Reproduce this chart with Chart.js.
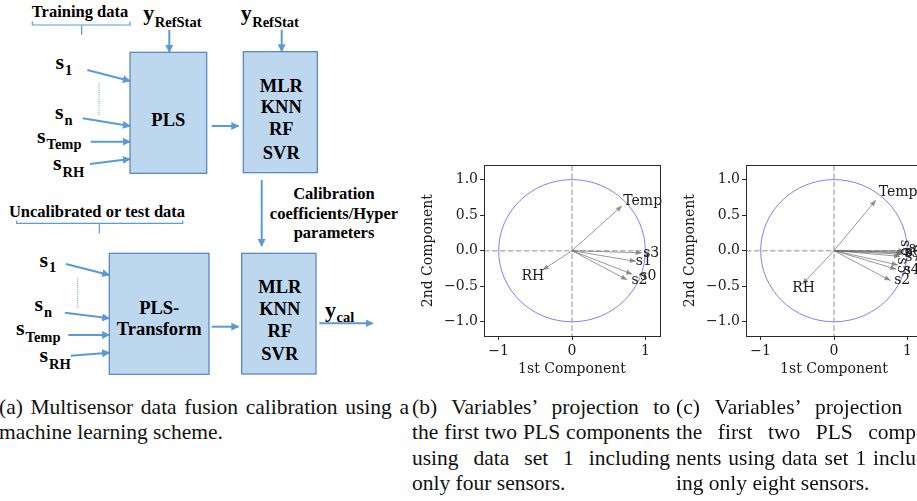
<!DOCTYPE html>
<html>
<head>
<meta charset="utf-8">
<script src="https://cdn.jsdelivr.net/npm/chart.js@4.4.1/dist/chart.umd.min.js"></script>
<style>
  html, body { margin: 0; padding: 0; width: 917px; height: 501px; overflow: hidden; background: #fff; }
  #page { position: relative; width: 917px; height: 501px; overflow: hidden; }
  #page canvas { position: absolute; }
  .cap { position: absolute; font-family: "Liberation Serif", serif; font-size: 21.5px; line-height: 25.4px; color: #111; }
  .cap .j { text-align: justify; text-align-last: justify; }
  .cap .l { text-align: left; }
</style>
</head>
<body>
<div id="page">

<!-- (a) calibration scheme -->
<svg width="400" height="390" style="position:absolute;left:0;top:0" font-family="Liberation Serif, serif" font-weight="bold" fill="#000">
  <defs>
    <marker id="ah" viewBox="0 0 10 10" refX="9" refY="5" markerWidth="4" markerHeight="4" orient="auto">
      <path d="M0,0 L10,5 L0,10 z" fill="#5b9bd5"/>
    </marker>
  </defs>
  <g stroke="#5b9bd5" stroke-width="2" fill="none" marker-end="url(#ah)">
    <!-- training branch -->
    <line x1="169.3" y1="30" x2="169.3" y2="52"/>
    <line x1="281.7" y1="30" x2="281.7" y2="51.5"/>
    <line x1="211.7" y1="126" x2="238.5" y2="126"/>
    <line x1="87.3" y1="70" x2="130" y2="81"/>
    <line x1="82.7" y1="118.3" x2="130" y2="126"/>
    <line x1="90.7" y1="141.7" x2="130" y2="141.7"/>
    <line x1="90" y1="164" x2="130" y2="159"/>
    <line x1="261.7" y1="180" x2="261.7" y2="246"/>
    <!-- test branch -->
    <line x1="211.7" y1="326.7" x2="238.5" y2="326.7"/>
    <line x1="319.3" y1="323.3" x2="372.7" y2="323.3"/>
    <line x1="66" y1="264" x2="109.3" y2="275"/>
    <line x1="65" y1="312.7" x2="109.3" y2="318.3"/>
    <line x1="68.3" y1="335" x2="109.3" y2="335"/>
    <line x1="70.7" y1="355.7" x2="109.3" y2="352.7"/>
  </g>
  <g stroke="#5b9bd5" stroke-width="1.2" fill="none">
    <path d="M32.3,21.5 L32.3,25 L130,25 L130,21.5 M81.7,25 L81.7,35"/>
    <path d="M16.7,220.5 L16.7,223.3 L182.7,223.3 L182.7,220.5 M99.3,223.3 L99.3,233.3"/>
  </g>
  <g stroke="#5b9bd5" stroke-width="1" stroke-dasharray="1,1.2">
    <line x1="99" y1="83.3" x2="99" y2="115"/>
    <line x1="77.7" y1="278.3" x2="77.7" y2="308.3"/>
  </g>
  <g fill="#bdd7ee" stroke="#4f81bd" stroke-width="1.2">
    <rect x="130" y="52.3" width="76.7" height="121"/>
    <rect x="243.3" y="51.7" width="74" height="121"/>
    <rect x="109.3" y="253.3" width="99.7" height="121"/>
    <rect x="241.7" y="253.3" width="74.3" height="120.7"/>
  </g>
  <g font-size="16.5" text-anchor="middle">
    <text x="80" y="17">Training data</text>
    <text x="97" y="217.3">Uncalibrated or test data</text>
    <text x="334" y="199">Calibration</text>
    <text x="334" y="218.5">coefficients/Hyper</text>
    <text x="334" y="237.5">parameters</text>
  </g>
  <g font-size="18.5" text-anchor="middle">
    <text x="168.3" y="126">PLS</text>
    <text x="281.3" y="92">MLR</text>
    <text x="281.3" y="113.4">KNN</text>
    <text x="281.3" y="135.4">RF</text>
    <text x="281.3" y="158.8">SVR</text>
    <text x="159.2" y="314.3">PLS-</text>
    <text x="159.2" y="335.3">Transform</text>
    <text x="279.8" y="293.4">MLR</text>
    <text x="279.8" y="315">KNN</text>
    <text x="279.8" y="337.4">RF</text>
    <text x="279.8" y="360.1">SVR</text>
  </g>
  <g font-size="22">
    <text x="143.3" y="20">y<tspan font-size="14.5" dx="0.5" dy="6.5">RefStat</tspan></text>
    <text x="240.7" y="20">y<tspan font-size="14.5" dx="0.5" dy="6.5">RefStat</tspan></text>
    <text x="325" y="316.5">y<tspan font-size="14.5" dx="0.5" dy="5">cal</tspan></text>
    <text x="55.5" y="68.5">s<tspan font-size="14.5" dx="1" dy="6.5">1</tspan></text>
    <text x="55" y="118.5">s<tspan font-size="14.5" dx="1" dy="6">n</tspan></text>
    <text x="37" y="142.5">s<tspan font-size="14.5" dx="1" dy="6">Temp</tspan></text>
    <text x="53" y="170">s<tspan font-size="14.5" dx="1" dy="6.5">RH</tspan></text>
    <text x="39.5" y="266.7">s<tspan font-size="14.5" dx="1" dy="5.5">1</tspan></text>
    <text x="34.5" y="310.7">s<tspan font-size="14.5" dx="1" dy="6">n</tspan></text>
    <text x="16" y="335">s<tspan font-size="14.5" dx="1" dy="6.5">Temp</tspan></text>
    <text x="39.5" y="362.3">s<tspan font-size="14.5" dx="1" dy="7">RH</tspan></text>
  </g>
</svg>

<canvas id="plotFour" width="270" height="223" style="left:400px;top:155px"></canvas>
<canvas id="plotEight" width="270" height="223" style="left:662px;top:155px"></canvas>

<div class="cap" style="left:-1px;top:395px;width:410px">
  <div class="j">(a) Multisensor data fusion calibration using a</div>
  <div class="l">machine learning scheme.</div>
</div>
<div class="cap" style="left:412px;top:395px;width:258px">
  <div class="j">(b) Variables’ projection to</div>
  <div class="j">the first two PLS components</div>
  <div class="j">using data set 1 including</div>
  <div class="l">only four sensors.</div>
</div>
<div class="cap" style="left:676px;top:395px;width:258px">
  <div class="j">(c) Variables’ projection to</div>
  <div class="j">the first two PLS compo-</div>
  <div class="j">nents using data set 1 includ-</div>
  <div class="l">ing only eight sensors.</div>
</div>

</div>

<script>
// PLS loadings on the first two components, data set 1 with four sensors
const varsFour = ['s0', 's1', 's2', 's3', 'Temp', 'RH'];
const comp1Four = [0.82, 0.87, 0.75, 0.95, 0.68, -0.40];
const comp2Four = [-0.33, -0.15, -0.41, -0.03, 0.63, -0.27];
// text anchors (left edge, vertical middle) in component units
const textXFour = [0.93, 0.87, 0.81, 0.97, 0.70, -0.69];
const textYFour = [-0.36, -0.15, -0.42, -0.04, 0.70, -0.36];
const textRotFour = [0, 0, 0, 0, 0, 0];

// PLS loadings on the first two components, data set 1 with eight sensors
const varsEight = ['s0', 's1', 's2', 's3', 's4', 's5', 's6', 's7', 'Temp', 'RH'];
const comp1Eight = [0.95, 0.96, 0.77, 0.93, 0.85, 0.87, 0.94, 0.90, 0.57, -0.43];
const comp2Eight = [-0.02, 0.00, -0.42, -0.05, -0.26, -0.20, -0.03, -0.08, 0.71, -0.47];
const textXEight = [0.98, 1.02, 0.82, 0.96, 0.95, 0.92, 0.97, 0.97, 0.61, -0.57];
const textYEight = [-0.02, 0.03, -0.42, -0.04, -0.27, -0.21, 0.04, -0.09, 0.815, -0.53];
const textRotEight = [0, 0, 0, 0, 0, 90, 90, 0, 0, 0];

// axis ticks
const xTickValues = [-1, 0, 1];
const yTickValues = [-1.0, -0.5, 0.0, 0.5, 1.0];
const axisLimit = 1.2;

const FONT = '"DejaVu Serif", serif';
const MINUS = '\u2212';

function fmt(v, digits) {
  const s = Math.abs(v).toFixed(digits);
  return (v < 0 ? MINUS : '') + s;
}

// unit circle, dashed axes, arrow heads, variable names and frame
const biplotDecor = {
  id: 'biplotDecor',
  beforeDatasetsDraw(chart) {
    const { ctx, chartArea: a, scales: { x, y } } = chart;
    const cx = x.getPixelForValue(0), cy = y.getPixelForValue(0);
    const rx = x.getPixelForValue(1) - cx, ry = cy - y.getPixelForValue(1);
    ctx.save();
    ctx.strokeStyle = 'rgba(0,0,255,0.5)';
    ctx.lineWidth = 1;
    ctx.beginPath();
    ctx.ellipse(cx, cy, rx, ry, 0, 0, Math.PI * 2);
    ctx.stroke();
    ctx.strokeStyle = '#b5b5b5';
    ctx.lineWidth = 1.5;
    ctx.setLineDash([5.5, 2.5]);
    ctx.beginPath();
    ctx.moveTo(a.left, cy); ctx.lineTo(a.right, cy);
    ctx.moveTo(cx, a.top); ctx.lineTo(cx, a.bottom);
    ctx.stroke();
    ctx.restore();
  },
  afterDatasetsDraw(chart, args, opts) {
    const { ctx, scales: { x, y } } = chart;
    ctx.save();
    chart.data.datasets.forEach((ds, i) => {
      const pts = chart.getDatasetMeta(i).data;
      const p0 = pts[0], p1 = pts[1];
      const ang = Math.atan2(p1.y - p0.y, p1.x - p0.x);
      const len = 6, half = 2.6;
      ctx.fillStyle = 'rgba(110,110,110,0.7)';
      ctx.beginPath();
      ctx.moveTo(p1.x, p1.y);
      ctx.lineTo(p1.x - len * Math.cos(ang) + half * Math.sin(ang), p1.y - len * Math.sin(ang) - half * Math.cos(ang));
      ctx.lineTo(p1.x - len * Math.cos(ang) - half * Math.sin(ang), p1.y - len * Math.sin(ang) + half * Math.cos(ang));
      ctx.closePath();
      ctx.fill();
    });
    ctx.font = '14px ' + FONT;
    ctx.fillStyle = '#1a1a1a';
    ctx.textBaseline = 'middle';
    opts.names.forEach((name, i) => {
      const px = x.getPixelForValue(opts.tx[i]);
      const py = y.getPixelForValue(opts.ty[i]);
      ctx.save();
      ctx.translate(px, py);
      if (opts.rot[i]) {
        ctx.rotate(opts.rot[i] * Math.PI / 180);
        ctx.textAlign = 'center';
      } else {
        ctx.textAlign = 'left';
      }
      ctx.fillText(name, 0, 0);
      ctx.restore();
    });
    ctx.restore();
  },
  afterDraw(chart) {
    const { ctx, chartArea: a } = chart;
    ctx.save();
    ctx.strokeStyle = '#2a2a2a';
    ctx.lineWidth = 1;
    ctx.strokeRect(Math.round(a.left) + 0.5, Math.round(a.top) + 0.5,
                   Math.round(a.right - a.left), Math.round(a.bottom - a.top));
    ctx.restore();
  }
};

function buildBiplot(canvasId, names, c1, c2, tx, ty, rot) {
  const datasets = names.map((n, i) => ({
    label: n,
    data: [{ x: 0, y: 0 }, { x: c1[i], y: c2[i] }],
    showLine: true,
    pointRadius: 0,
    borderColor: 'rgba(110,110,110,0.7)',
    borderWidth: 1
  }));
  const tickFont = { family: FONT, size: 14 };
  const gridOpts = { drawOnChartArea: false, drawTicks: true, tickLength: 4, color: '#2a2a2a', tickColor: '#2a2a2a' };
  return new Chart(document.getElementById(canvasId), {
    type: 'scatter',
    data: { datasets },
    options: {
      responsive: false,
      animation: false,
      events: [],
      layout: { padding: { left: 20, top: 10, right: 10, bottom: 0 } },
      plugins: {
        legend: { display: false },
        tooltip: { enabled: false },
        biplotDecor: { names, tx, ty, rot }
      },
      scales: {
        x: {
          type: 'linear', min: -axisLimit, max: axisLimit,
          afterBuildTicks: s => { s.ticks = xTickValues.map(v => ({ value: v })); },
          ticks: { callback: v => fmt(v, 0), font: tickFont, color: '#1a1a1a', padding: 3, maxRotation: 0, autoSkip: false },
          grid: gridOpts,
          border: { display: false },
          title: { display: true, text: '1st Component', font: tickFont, color: '#1a1a1a', padding: 0 },
          afterFit: s => { s.height = 42; }
        },
        y: {
          type: 'linear', min: -axisLimit, max: axisLimit,
          afterBuildTicks: s => { s.ticks = yTickValues.map(v => ({ value: v })); },
          ticks: { callback: v => fmt(v, 1), font: tickFont, color: '#1a1a1a', padding: 2, autoSkip: false },
          grid: gridOpts,
          border: { display: false },
          title: { display: true, text: '2nd Component', font: tickFont, color: '#1a1a1a', padding: 0 },
          afterFit: s => { s.width = 64; }
        }
      }
    },
    plugins: [biplotDecor]
  });
}

buildBiplot('plotFour', varsFour, comp1Four, comp2Four, textXFour, textYFour, textRotFour);
buildBiplot('plotEight', varsEight, comp1Eight, comp2Eight, textXEight, textYEight, textRotEight);
</script>
</body>
</html>
